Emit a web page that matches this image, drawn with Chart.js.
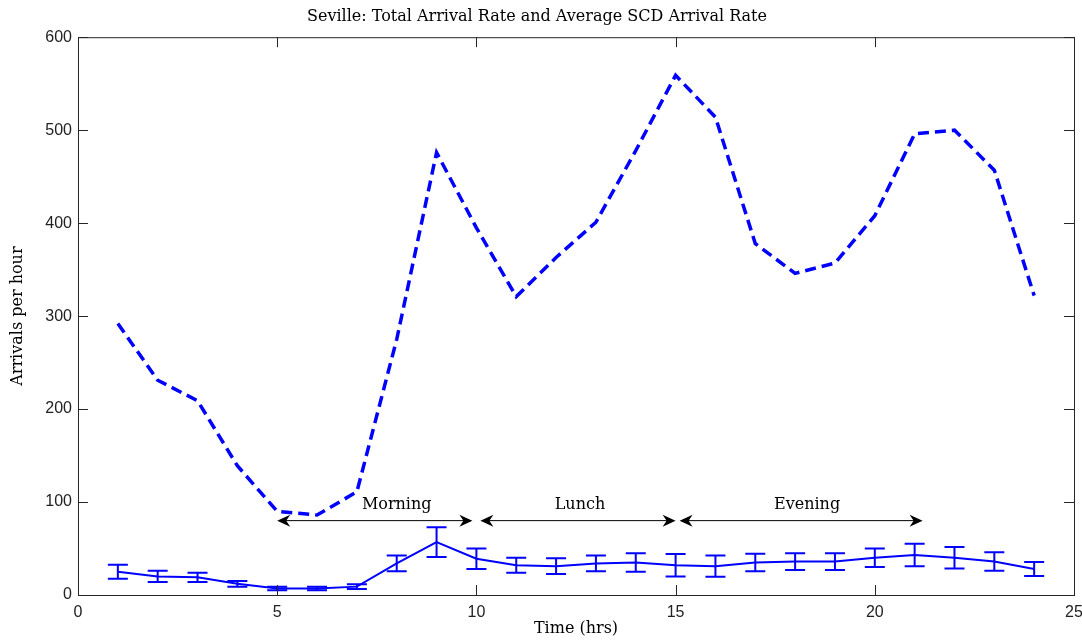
<!DOCTYPE html>
<html>
<head>
<meta charset="utf-8">
<script src="https://cdn.jsdelivr.net/npm/chart.js@4"></script>
<style>
  html, body { margin: 0; padding: 0; background: #fff; }
  #wrap { width: 1082px; height: 640px; }
</style>
</head>
<body>
<div id="wrap"><canvas id="my-chart"></canvas></div>
<script>
const hours = [1, 2, 3, 4, 5, 6, 7, 8, 9, 10, 11, 12, 13, 14, 15, 16, 17, 18, 19, 20, 21, 22, 23, 24];
const totalRate = [292, 231, 209, 139, 90, 86, 111, 275, 476, 395, 321, 363, 401, 478, 559, 514, 378, 346, 357, 408, 496, 500, 457, 322];
const scdRate = [25, 20, 19, 12, 7, 7, 9, 34, 57, 39, 32, 31, 34, 35, 32, 31, 35, 36, 36, 40, 43, 40, 36, 28];
const scdError = [7.5, 6, 5, 3, 2, 2, 2.5, 8.5, 16, 11, 8, 8.5, 8.5, 10, 12, 11.5, 9.5, 9, 9, 10, 12, 11.5, 10, 7.5];

const periodNames = ['Morning', 'Lunch', 'Evening'];
const periodStart = [5, 10.1, 15.1];
const periodEnd = [9.9, 15, 21.2];
const periodLabelX = [8, 12.6, 18.3];
const periodArrowY = 80;
const periodLabelY = 97;

const blue = 'rgb(0, 0, 255)';
const serif = '"DejaVu Serif", serif';
const sans = '"Liberation Sans", sans-serif';

// error bars on the SCD series
const errorBars = {
  id: 'errorBars',
  afterDatasetsDraw(chart) {
    const { ctx, scales: { x, y } } = chart;
    ctx.save();
    ctx.strokeStyle = blue;
    ctx.lineWidth = 2;
    hours.forEach((h, i) => {
      const px = x.getPixelForValue(h);
      const top = y.getPixelForValue(scdRate[i] + scdError[i]);
      const bot = y.getPixelForValue(scdRate[i] - scdError[i]);
      ctx.beginPath();
      ctx.moveTo(px, top);
      ctx.lineTo(px, bot);
      ctx.moveTo(px - 10, top);
      ctx.lineTo(px + 10, top);
      ctx.moveTo(px - 10, bot);
      ctx.lineTo(px + 10, bot);
      ctx.stroke();
    });
    ctx.restore();
  },
};

function arrowHead(ctx, px, py, dir) {
  ctx.beginPath();
  ctx.moveTo(px, py);
  ctx.lineTo(px - dir * 13, py - 6);
  ctx.lineTo(px - dir * 9, py);
  ctx.lineTo(px - dir * 13, py + 6);
  ctx.closePath();
  ctx.fill();
}

// period arrows and labels
const periods = {
  id: 'periods',
  afterDatasetsDraw(chart) {
    const { ctx, scales: { x, y } } = chart;
    ctx.save();
    ctx.strokeStyle = '#000';
    ctx.fillStyle = '#000';
    ctx.lineWidth = 1;
    ctx.font = `16px ${serif}`;
    ctx.textAlign = 'center';
    ctx.textBaseline = 'middle';
    const py = y.getPixelForValue(periodArrowY);
    periodNames.forEach((name, i) => {
      const x0 = x.getPixelForValue(periodStart[i]);
      const x1 = x.getPixelForValue(periodEnd[i]);
      ctx.beginPath();
      ctx.moveTo(x0 + 4, py);
      ctx.lineTo(x1 - 4, py);
      ctx.stroke();
      arrowHead(ctx, x0, py, -1);
      arrowHead(ctx, x1, py, 1);
      ctx.fillText(name, x.getPixelForValue(periodLabelX[i]), y.getPixelForValue(periodLabelY));
    });
    ctx.restore();
  },
};

// box around the axes with ticks pointing inward
const frame = {
  id: 'frame',
  afterDraw(chart) {
    const { ctx, chartArea: a, scales: { x, y } } = chart;
    ctx.save();
    ctx.strokeStyle = '#262626';
    ctx.lineWidth = 1;
    ctx.strokeRect(a.left + 0.5, a.top + 0.5, a.right - a.left, a.bottom - a.top);
    ctx.beginPath();
    x.ticks.forEach((t) => {
      const px = Math.round(x.getPixelForValue(t.value)) + 0.5;
      ctx.moveTo(px, a.bottom);
      ctx.lineTo(px, a.bottom - 10);
      ctx.moveTo(px, a.top);
      ctx.lineTo(px, a.top + 10);
    });
    y.ticks.forEach((t) => {
      const py = Math.round(y.getPixelForValue(t.value)) + 0.5;
      ctx.moveTo(a.left, py);
      ctx.lineTo(a.left + 10, py);
      ctx.moveTo(a.right, py);
      ctx.lineTo(a.right - 10, py);
    });
    ctx.stroke();
    ctx.restore();
  },
};

const ctx = document.getElementById('my-chart').getContext('2d');

new Chart(ctx, {
  type: 'line',
  data: {
    datasets: [
      {
        label: 'Total arrival rate',
        data: hours.map((h, i) => ({ x: h, y: totalRate[i] })),
        borderColor: blue,
        borderWidth: 3.5,
        borderDash: [11, 6],
        pointRadius: 0,
        tension: 0,
        fill: false,
      },
      {
        label: 'Average SCD arrival rate',
        data: hours.map((h, i) => ({ x: h, y: scdRate[i] })),
        borderColor: blue,
        borderWidth: 2,
        pointRadius: 0,
        tension: 0,
        fill: false,
      },
    ],
  },
  options: {
    responsive: true,
    maintainAspectRatio: false,
    animation: false,
    layout: { padding: { left: 0, right: 8, top: 0, bottom: 0 } },
    plugins: {
      legend: { display: false },
      tooltip: { enabled: false },
      title: {
        display: true,
        text: 'Seville: Total Arrival Rate and Average SCD Arrival Rate',
        color: '#000',
        font: { family: serif, size: 16, weight: 'normal', lineHeight: 1.2 },
        padding: { top: 7, bottom: 11 },
      },
    },
    scales: {
      x: {
        type: 'linear',
        min: 0,
        max: 25,
        grid: { display: false, drawTicks: false },
        border: { display: false },
        ticks: {
          stepSize: 5,
          color: '#222',
          padding: 8,
          font: { family: sans, size: 16 },
        },
        title: {
          display: true,
          text: 'Time (hrs)',
          color: '#000',
          padding: { top: 0, bottom: 2 },
          font: { family: serif, size: 16 },
        },
        afterFit(scale) {
          scale.height = 45;
          scale.paddingRight = 0;
        },
      },
      y: {
        min: 0,
        max: 600,
        grid: { display: false, drawTicks: false },
        border: { display: false },
        ticks: {
          stepSize: 100,
          color: '#222',
          padding: 6,
          font: { family: sans, size: 16 },
        },
        title: {
          display: true,
          text: 'Arrivals per hour',
          color: '#000',
          padding: { top: 8, bottom: 0 },
          font: { family: serif, size: 16 },
        },
        afterFit(scale) { scale.width = 78; },
      },
    },
  },
  plugins: [errorBars, periods, frame],
});
</script>
</body>
</html>
